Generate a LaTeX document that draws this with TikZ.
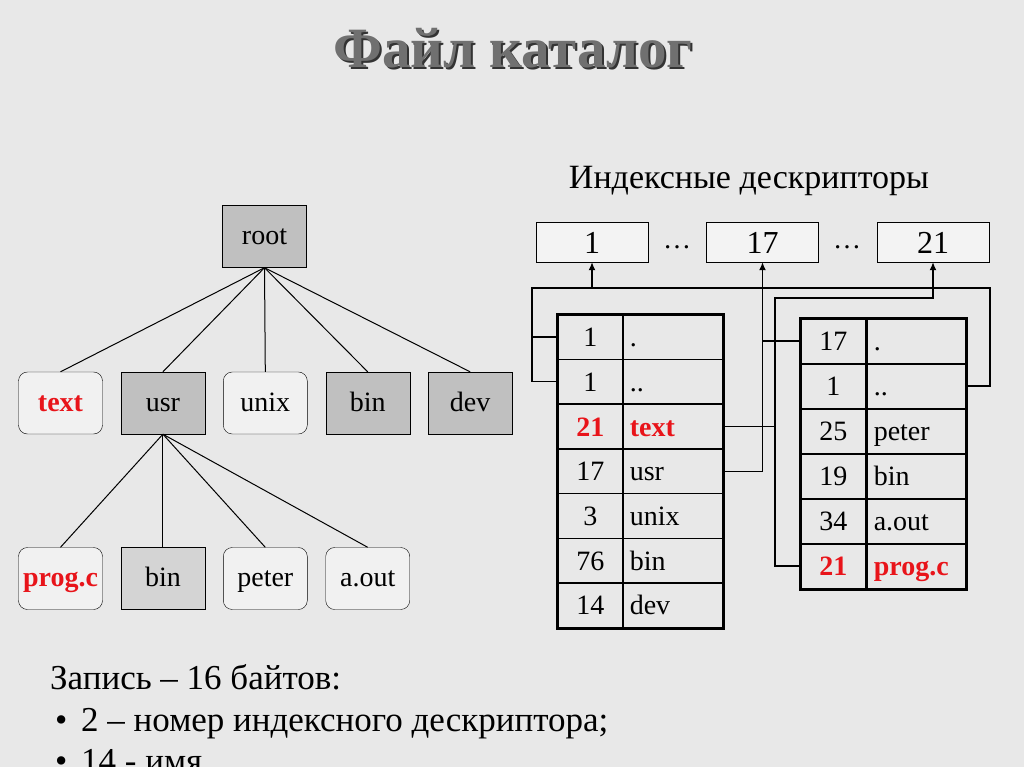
\documentclass[tikz,border=0pt]{standalone}
\usepackage{fontspec}
\setmainfont{Liberation Serif}
\usetikzlibrary{arrows.meta,positioning}
\definecolor{slidebg}{HTML}{E8E8E8}
\definecolor{dirgray}{HTML}{C0C0C0}
\definecolor{subgray}{HTML}{D4D4D4}
\definecolor{filered}{HTML}{E8141A}
\definecolor{titlegray}{HTML}{707070}

\begin{document}
\begin{tikzpicture}[
  x=1pt, y=-1pt,
  >={Latex[length=8pt,width=7pt]},
  node distance=18pt,
  every node/.style={font=\fontsize{28}{30}\selectfont},
  dirbox/.style={draw, fill=dirgray, minimum width=84pt, minimum height=62pt, inner sep=0pt, text height=20pt, text depth=4pt},
  filebox/.style={draw, rounded corners=9pt, fill=slidebg!60!white, minimum width=84pt, minimum height=62pt, inner sep=0pt, text height=20pt, text depth=4pt},
  redfile/.style={filebox, text=filered, font=\fontsize{28}{30}\selectfont\bfseries},
  idxbox/.style={draw, fill=slidebg!50!white, minimum width=112pt, minimum height=40pt, inner sep=0pt, text height=23pt, text depth=0pt, font=\fontsize{32}{36}\selectfont},
  numcell/.style={draw, line width=1.5pt, minimum width=65pt, minimum height=44.7pt, inner sep=0pt, text height=22pt, text depth=3pt, anchor=north west},
  namecell/.style={draw, line width=1.5pt, text width=86pt, align=left, inner xsep=7pt, inner ysep=0pt, minimum height=44.7pt, text height=22pt, text depth=3pt, anchor=north west},
  plain/.style={},
  hot/.style={text=filered, font=\fontsize{28}{30}\selectfont\bfseries},
  link/.style={line width=1.3pt},
  notes/.style={anchor=base west, inner sep=0pt, font=\fontsize{35}{40}\selectfont}
]
\useasboundingbox[fill=slidebg] (0,0) rectangle (1024,767);

\node[font=\fontsize{57}{64}\selectfont\bfseries, text=black!80] (shadow) at (515,50) {Файл каталог};
\node[font=\fontsize{57}{64}\selectfont\bfseries, text=titlegray] (title) at (513,48) {Файл каталог};

\node[font=\fontsize{34}{38}\selectfont] (idxtitle) at (749,181) {Индексные дескрипторы};
\node[idxbox] (d1) at (592,242) {1};
\node[idxbox] (d17) at (762.5,242) {17};
\node[idxbox] (d21) at (933,242) {21};
\node (dotsA) at (677,247) {…};
\node (dotsB) at (847,247) {…};

\node[dirbox] (root) at (264.5,236.5) {root};
\node[redfile] (ftext) at (60.5,403) {text};
\node[dirbox, right=of ftext] (fusr) {usr};
\node[filebox, right=of fusr] (funix) {unix};
\node[dirbox, right=of funix] (fbin) {bin};
\node[dirbox, right=of fbin] (fdev) {dev};
\node[redfile] (fprog) at (60.5,578.5) {prog.c};
\node[dirbox, fill=subgray, right=of fprog] (fusrbin) {bin};
\node[filebox, right=of fusrbin] (fpeter) {peter};
\node[filebox, right=of fpeter] (faout) {a.out};
\foreach \c in {ftext,fusr,funix,fbin,fdev}
  \draw[line width=1pt] (root.south) -- (\c.north);
\foreach \c in {fprog,fusrbin,fpeter,faout}
  \draw[line width=1pt] (fusr.south) -- (\c.north);

\foreach \num/\nm/\st [count=\i] in {1/./plain, 1/../plain, 21/text/hot, 17/usr/plain, 3/unix/plain, 76/bin/plain, 14/dev/plain} {
  \node[numcell, \st] (ln\i) at (557,{314+44.7*(\i-1)}) {\num};
  \node[namecell, \st] (lt\i) at (622,{314+44.7*(\i-1)}) {\nm};
}
\draw[line width=3pt] (ln1.north west) rectangle (lt7.south east);

\foreach \num/\nm/\st [count=\i] in {17/./plain, 1/../plain, 25/peter/plain, 19/bin/plain, 34/a.out/plain, 21/prog.c/hot} {
  \node[numcell, \st] (rn\i) at (800,{318+45*(\i-1)}) {\num};
  \node[namecell, \st, text width=85pt] (rt\i) at (866,{318+45*(\i-1)}) {\nm};
}
\draw[line width=3pt] (rn1.north west) rectangle (rt6.south east);

\coordinate (busL) at (532,288);
\coordinate (busR) at (990,288);
\coordinate (bus21) at (775,298);
\draw[link] (ln1.west) -| (busL) -- (busR) |- (rt2.east);
\draw[link] (ln2.west) -| (busL);
\draw[link,->] (d1.south |- busL) -- (d1.south);
\draw[link,->] (lt4.east) -| (d17.south);
\draw[link] (rn1.west) -- (rn1.west -| d17.south);
\draw[link,->] (rn6.west) -| (bus21) -| (d21.south);
\draw[link] (lt3.east) -- (lt3.east -| bus21);

\node[notes] (rec) at (50,689) {Запись – 16 байтов:};
\node[notes] (bulA) at (55,731) {•};
\node[notes] (itemA) at (81,731) {2 – номер индексного дескриптора;};
\node[notes] (bulB) at (55,772) {•};
\node[notes] (itemB) at (81,772) {14 - имя};
\end{tikzpicture}
\end{document}
